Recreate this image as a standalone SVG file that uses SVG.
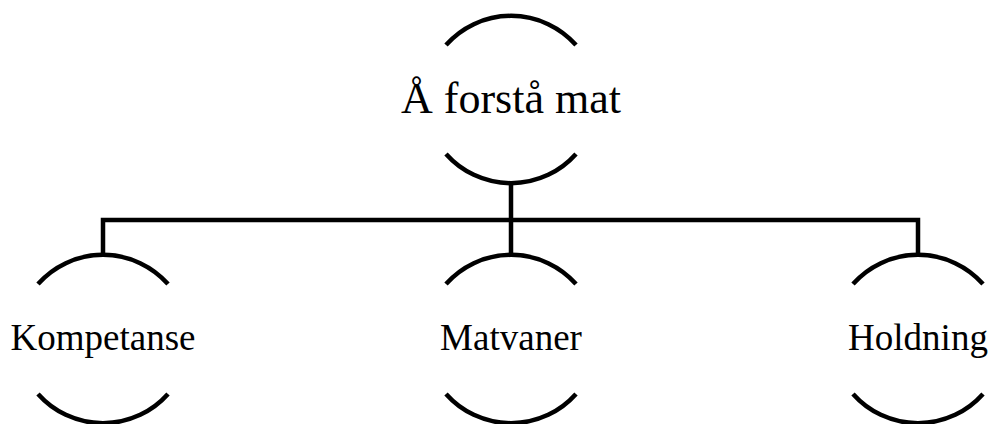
<svg xmlns="http://www.w3.org/2000/svg" width="991" height="424" viewBox="0 0 991 424">
<style>
.arc{fill:none;stroke:#000;stroke-width:4.5}
.conn{fill:none;stroke:#000;stroke-width:4.5}
.lbl{font-family:"Liberation Serif",serif;fill:#000;text-anchor:middle}
</style>
<rect width="991" height="424" fill="#fff"/>
<g id="connectors">
<path class="conn" d="M511,183 V255"/>
<path class="conn" d="M103,255 V220 H918 V255"/>
</g>
<g id="node-root">
<path class="arc" d="M446,45 A87 87 0 0 1 576,45"/>
<path class="arc" d="M446,154 A87 87 0 0 0 576,154"/>
<text class="lbl" x="511" y="113" font-size="44">Å forstå mat</text>
</g>
<g id="node-kompetanse">
<path class="arc" d="M38,284 A87 87 0 0 1 168,284"/>
<path class="arc" d="M38,394 A87 87 0 0 0 168,394"/>
<text class="lbl" x="103" y="350" font-size="37">Kompetanse</text>
</g>
<g id="node-matvaner">
<path class="arc" d="M446,284 A87 87 0 0 1 576,284"/>
<path class="arc" d="M446,394 A87 87 0 0 0 576,394"/>
<text class="lbl" x="511" y="350" font-size="37">Matvaner</text>
</g>
<g id="node-holdning">
<path class="arc" d="M853,284 A87 87 0 0 1 983,284"/>
<path class="arc" d="M853,394 A87 87 0 0 0 983,394"/>
<text class="lbl" x="918" y="350" font-size="37">Holdning</text>
</g>
</svg>
